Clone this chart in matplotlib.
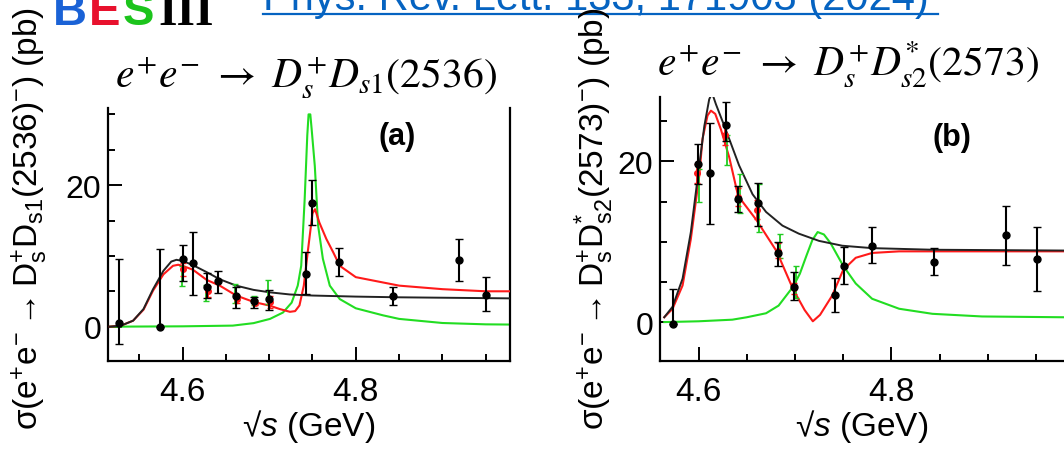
import matplotlib.pyplot as plt
from matplotlib.ticker import MultipleLocator
from matplotlib.lines import Line2D

plt.rcParams['font.family'] = ['Liberation Sans', 'DejaVu Sans']
plt.rcParams['mathtext.fontset'] = 'custom'
plt.rcParams['mathtext.rm'] = 'Liberation Sans'
plt.rcParams['mathtext.it'] = 'Liberation Sans:italic'
plt.rcParams['mathtext.bf'] = 'Liberation Sans:bold'

# ---- panel (a): e+e- -> Ds+ Ds1(2536)- ----
a_x = [4.527, 4.574, 4.600, 4.612, 4.628, 4.641, 4.662, 4.683, 4.700, 4.742, 4.750, 4.781, 4.843, 4.919, 4.950]
a_y = [0.5, 0.0, 9.6, 9.0, 5.6, 6.4, 4.3, 3.6, 3.9, 7.4, 17.5, 9.1, 4.4, 9.4, 4.5]
a_hi = [9.0, 11.0, 2.0, 4.4, 2.0, 1.5, 1.3, 0.6, 1.3, 3.2, 3.2, 2.0, 1.2, 3.0, 2.5]
a_lo = [2.9, 0.0, 3.2, 4.5, 1.5, 1.6, 1.7, 0.9, 1.5, 2.8, 3.2, 2.0, 1.3, 3.0, 2.3]

a_red_x = [4.601, 4.629, 4.663, 4.684, 4.701]
a_red_y = [8.1, 5.0, 3.9, 3.4, 3.5]
a_red_e = [0.9, 0.8, 0.6, 0.4, 0.9]
a_grn_x = [4.599, 4.627, 4.661, 4.682, 4.699]
a_grn_lo = [5.8, 3.6, 3.4, 3.0, 3.2]
a_grn_hi = [8.6, 5.9, 6.1, 4.4, 6.6]

a_blk_cx = [4.516, 4.529, 4.543, 4.555, 4.566, 4.578, 4.587, 4.593, 4.600, 4.612, 4.628, 4.643,
            4.662, 4.682, 4.701, 4.724, 4.750, 4.800, 4.850, 4.978]
a_blk_cy = [0.0, 0.15, 0.85, 2.5, 5.3, 7.9, 9.2, 9.45, 9.3, 8.7, 7.7, 6.7,
            5.8, 5.2, 4.85, 4.55, 4.4, 4.25, 4.15, 4.0]
a_red_cx = [4.516, 4.529, 4.543, 4.555, 4.566, 4.578, 4.589, 4.595, 4.600, 4.612, 4.628, 4.643,
            4.662, 4.682, 4.701, 4.712, 4.724, 4.730, 4.735, 4.740, 4.745, 4.750, 4.753, 4.758,
            4.766, 4.774, 4.7815, 4.800, 4.850, 4.900, 4.950, 4.978]
a_red_cy = [0.0, 0.15, 0.85, 2.4, 5.1, 7.4, 8.6, 8.75, 8.6, 8.05, 6.6, 5.8,
            4.4, 3.5, 2.96, 2.5, 2.1, 2.2, 3.0, 5.8, 11.0, 16.0, 16.6, 14.7,
            12.4, 10.5, 8.6, 7.0, 5.8, 5.3, 5.0, 5.0]
a_grn_cx = [4.516, 4.600, 4.658, 4.682, 4.701, 4.716, 4.726, 4.733, 4.737, 4.741, 4.744, 4.7455,
            4.7475, 4.749, 4.7527, 4.7565, 4.762, 4.770, 4.7815, 4.800, 4.8315, 4.850, 4.900,
            4.950, 4.978]
a_grn_cy = [0.0, 0.05, 0.15, 0.5, 1.1, 2.0, 3.4, 5.8, 8.6, 18.0, 27.0, 30.0,
            30.0, 28.0, 22.7, 14.3, 9.6, 5.8, 3.9, 2.6, 1.6, 1.1, 0.52,
            0.33, 0.3]

# ---- panel (b): e+e- -> Ds+ Ds2*(2573)- ----
b_x = [4.574, 4.599, 4.612, 4.628, 4.641, 4.662, 4.682, 4.699, 4.741, 4.751, 4.780, 4.844, 4.919, 4.951]
b_y = [-0.2, 19.7, 18.6, 24.5, 15.3, 14.8, 8.6, 4.4, 3.4, 7.0, 9.5, 7.45, 10.8, 7.9]
b_hi = [4.3, 2.4, 6.2, 2.9, 1.6, 2.5, 1.4, 1.8, 2.1, 2.3, 2.3, 1.75, 3.7, 3.9]
b_lo = [0.0, 2.5, 6.4, 2.0, 1.6, 2.8, 1.6, 1.6, 2.2, 2.2, 2.1, 1.65, 3.7, 4.0]

b_red_x = [4.598, 4.627, 4.641, 4.661, 4.682, 4.699]
b_red_y = [18.5, 23.3, 15.6, 14.0, 8.9, 4.2]
b_red_e = [1.2, 1.3, 1.1, 1.2, 0.9, 0.7]
b_grn_x = [4.600, 4.629, 4.643, 4.663, 4.684, 4.701]
b_grn_lo = [14.9, 19.6, 13.6, 11.2, 8.0, 3.0]
b_grn_hi = [19.0, 23.3, 18.4, 17.2, 11.0, 7.0]

b_blk_cx = [4.5644, 4.573, 4.5834, 4.592, 4.6007, 4.606, 4.611, 4.614, 4.618, 4.628, 4.642, 4.656,
            4.670, 4.687, 4.704, 4.725, 4.749, 4.780, 4.8425, 4.979]
b_blk_cy = [0.6, 1.9, 5.4, 11.2, 19.5, 24.4, 27.7, 28.5, 27.1, 24.0, 19.5, 15.9,
            13.7, 12.0, 11.0, 10.1, 9.5, 9.2, 9.0, 8.9]
b_red_cx = [4.5644, 4.573, 4.5834, 4.592, 4.6007, 4.6041, 4.6093, 4.6128, 4.6173, 4.6231, 4.6318,
            4.641, 4.660, 4.681, 4.698, 4.710, 4.7185, 4.726, 4.7386, 4.750, 4.763, 4.780, 4.808, 4.979]
b_red_cy = [0.6, 1.65, 4.55, 10.35, 18.2, 22.8, 25.7, 26.3, 25.9, 24.0, 20.5,
            15.7, 12.7, 8.8, 4.1, 1.5, 0.1, 0.9, 3.3, 6.5, 8.0, 8.6, 8.8, 8.8]
b_grn_cx = [4.5644, 4.600, 4.635, 4.650, 4.670, 4.683, 4.698, 4.705, 4.712, 4.718, 4.7235, 4.730,
            4.737, 4.750, 4.763, 4.780, 4.808, 4.8425, 4.894, 4.979]
b_grn_cy = [0.0, 0.1, 0.3, 0.6, 1.1, 2.05, 4.4, 6.0, 8.3, 10.2, 11.2, 10.9,
            9.8, 7.0, 4.8, 2.9, 1.66, 1.03, 0.7, 0.6]

W, H = 1064, 452
fig = plt.figure(figsize=(W / 100, H / 100), dpi=100)


def px_axes(l, t, r, b):
    return fig.add_axes([l / W, 1 - b / H, (r - l) / W, (b - t) / H])


def style(ax, xlim, ylim, right=True):
    ax.set_xlim(*xlim)
    ax.set_ylim(*ylim)
    ax.spines['top'].set_visible(False)
    ax.spines['right'].set_visible(right)
    for s in ax.spines.values():
        s.set_linewidth(1.6)
    ax.xaxis.set_major_locator(MultipleLocator(0.2))
    ax.xaxis.set_minor_locator(MultipleLocator(0.05))
    ax.yaxis.set_major_locator(MultipleLocator(20))
    ax.yaxis.set_minor_locator(MultipleLocator(5))
    ax.xaxis.set_major_formatter(lambda v, p: f'{v:.1f}')
    ax.yaxis.set_major_formatter(lambda v, p: f'{v:.0f}')
    ax.tick_params(which='both', direction='in', top=False, right=False, width=1.4)
    ax.tick_params(axis='x', which='major', length=10, pad=11, labelsize=24)
    ax.tick_params(axis='y', which='major', length=10, pad=5, labelsize=23)
    ax.tick_params(which='minor', length=5)
    ax.set_xlabel('√$s$ (GeV)', fontsize=24, labelpad=0)


def draw(ax, gx, gy, rx, ry, kx, ky, x, y, lo, hi, r_x, r_y, r_e, g_x, g_lo, g_hi):
    ax.plot(gx, gy, color='#22dd22', lw=1.5, zorder=2)
    ax.plot(rx, ry, color='#ff1a1a', lw=1.5, zorder=3)
    ax.plot(kx, ky, color='#222222', lw=1.4, zorder=3)
    g_c = [(a + b) / 2 for a, b in zip(g_lo, g_hi)]
    g_e = [(b - a) / 2 for a, b in zip(g_lo, g_hi)]
    ax.errorbar(g_x, g_c, yerr=g_e, fmt='none', ecolor='#22cc22', elinewidth=1.3, capsize=2.5, zorder=4)
    ax.errorbar(r_x, r_y, yerr=r_e, fmt='o', color='#ff1a1a', ms=4, elinewidth=1.3, capsize=2.5, zorder=5)
    ax.errorbar(x, y, yerr=[lo, hi], fmt='o', color='black', ms=5, elinewidth=1.5, capsize=3, zorder=6)


ax_a = px_axes(108, 109, 510, 362)
draw(ax_a, a_grn_cx, a_grn_cy, a_red_cx, a_red_cy, a_blk_cx, a_blk_cy,
     a_x, a_y, a_lo, a_hi, a_red_x, a_red_y, a_red_e, a_grn_x, a_grn_lo, a_grn_hi)
style(ax_a, (4.514, 4.978), (-4.85, 30.9))

ax_b = px_axes(660, 98, 1064, 362)
draw(ax_b, b_grn_cx, b_grn_cy, b_red_cx, b_red_cy, b_blk_cx, b_blk_cy,
     b_x, b_y, b_lo, b_hi, b_red_x, b_red_y, b_red_e, b_grn_x, b_grn_lo, b_grn_hi)
style(ax_b, (4.560, 4.979), (-4.84, 28.0), right=False)

# y labels (top cut off in the original screenshot)
fig.text(30 / W, 22 / H, r'$\mathrm{\sigma(e^{+}e^{-}\rightarrow D_{s}^{+}D_{s1}(2536)^{-})}$ (pb)',
         rotation=90, ha='center', va='bottom', fontsize=24)
fig.text(594 / W, 22 / H, r'$\mathrm{\sigma(e^{+}e^{-}\rightarrow D_{s}^{+}D_{s2}^{*}(2573)^{-})}$ (pb)',
         rotation=90, ha='center', va='bottom', fontsize=24)

# reaction titles
fig.text(306 / W, 1 - 88 / H, r'$e^{+}e^{-}\ \rightarrow\ D_{s}^{+}D_{s1}(2536)$',
         math_fontfamily='stix', fontsize=30, ha='center', va='baseline')
fig.text(848 / W, 1 - 77 / H, r'$e^{+}e^{-}\ \rightarrow\ D_{s}^{+}D_{s2}^{*}(2573)$',
         math_fontfamily='stix', fontsize=30, ha='center', va='baseline')

# panel tags
fig.text(397 / W, 1 - 137 / H, '(a)', fontsize=22, fontweight='bold', ha='center', va='center')
fig.text(952 / W, 1 - 138 / H, '(b)', fontsize=22, fontweight='bold', ha='center', va='center')

# BESIII logo (only its lower part is visible)
for ch, xp, col, fam in [('B', 53, '#1a62d6', 'Liberation Sans'), ('E', 89, '#e8112d', 'Liberation Sans'),
                         ('S', 123, '#1cc41c', 'Liberation Sans'), ('III', 158, 'black', 'Liberation Serif')]:
    fig.text(xp / W, 1 - 25 / H, ch, color=col, fontsize=34, fontweight='bold', family=fam,
             ha='left', va='baseline')

# reference link
fig.text(263 / W, 1 - 10 / H, 'Phys. Rev. Lett. 133, 171903 (2024)', color='#0563c1',
         fontsize=30, ha='left', va='baseline')
fig.add_artist(Line2D([263 / W, 938 / W], [1 - 15 / H, 1 - 15 / H], transform=fig.transFigure,
                      color='#0563c1', lw=1.6))

fig.savefig('out.png', dpi=100)
